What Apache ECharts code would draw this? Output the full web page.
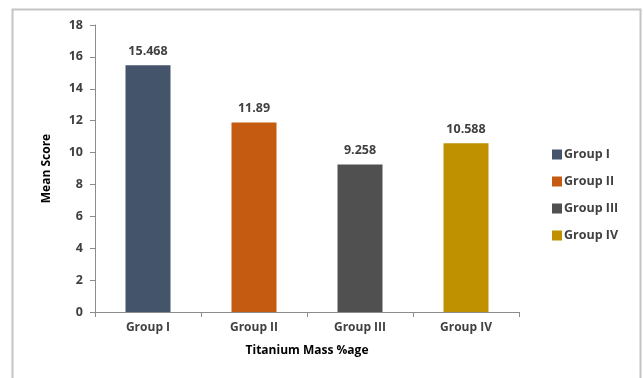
<!DOCTYPE html>
<html>
<head>
<meta charset="utf-8">
<script src="https://cdn.jsdelivr.net/npm/echarts@6/dist/echarts.min.js"></script>
<style>
  html, body { margin: 0; padding: 0; background: #ffffff; }
  #chart { width: 644px; height: 378px; }
</style>
</head>
<body>
<div id="chart"></div>
<script>
// Mean score per titanium group
const categories = ['Group I', 'Group II', 'Group III', 'Group IV'];
const meanScores = [15.468, 11.89, 9.258, 10.588];
const valueLabels = ['15.468', '11.89', '9.258', '10.588'];
const groupColors = ['#44546A', '#C55A11', '#505050', '#BF9000'];
const yTicks = [0, 2, 4, 6, 8, 10, 12, 14, 16, 18];

const FONT = '"Open Sans", sans-serif';
const textColor = '#404040';

// One series per group so each gets its own legend entry; sharing a stack keeps bars centred
const series = categories.map((name, i) => ({
  name: name,
  type: 'bar',
  stack: 'groups',
  barWidth: 45,
  itemStyle: { color: groupColors[i] },
  label: {
    show: true,
    position: 'top',
    distance: 7,
    fontFamily: FONT,
    fontWeight: 'bold',
    fontSize: 12.5,
    color: textColor,
    formatter: () => valueLabels[i]
  },
  data: categories.map((c, j) => (j === i ? meanScores[i] : null))
}));

const chart = echarts.init(document.getElementById('chart'), null, { renderer: 'canvas' });
chart.setOption({
  animation: false,
  backgroundColor: '#ffffff',
  graphic: [{
    type: 'rect',
    shape: { x: 12.5, y: 9.5, width: 628, height: 420 },
    style: { fill: 'none', stroke: '#c4c4c4', lineWidth: 2 },
    silent: true
  }],
  grid: { left: 95, right: 125, top: 25, bottom: 66 },
  legend: {
    orient: 'vertical',
    left: 547,
    top: 143,
    itemWidth: 10,
    itemHeight: 10,
    itemGap: 14,
    icon: 'rect',
    textStyle: { fontFamily: FONT, fontWeight: 'bold', fontSize: 12.5, color: textColor, padding: [0, 0, 0, -3] },
    data: categories
  },
  xAxis: {
    type: 'category',
    data: categories,
    name: 'Titanium Mass %age',
    nameLocation: 'middle',
    nameGap: 33,
    nameTextStyle: { fontFamily: FONT, fontWeight: 'bold', fontSize: 12, color: '#000' },
    axisLine: { lineStyle: { color: '#8c8c8c', width: 1 } },
    axisTick: { show: true, length: 5, lineStyle: { color: '#8c8c8c' } },
    axisLabel: { fontFamily: FONT, fontWeight: 'bold', fontSize: 12, color: textColor, margin: 10 }
  },
  yAxis: {
    type: 'value',
    min: 0,
    max: 18,
    interval: 2,
    name: 'Mean Score',
    nameLocation: 'middle',
    nameGap: 42,
    nameRotate: 90,
    nameTextStyle: { fontFamily: FONT, fontWeight: 'bold', fontSize: 12, color: '#000' },
    axisLine: { show: true, lineStyle: { color: '#8c8c8c', width: 1 } },
    axisTick: { show: true, length: 5, lineStyle: { color: '#8c8c8c' } },
    splitLine: { show: false },
    axisLabel: {
      fontFamily: FONT, fontWeight: 'bold', fontSize: 12.5, color: textColor, margin: 12,
      formatter: v => (yTicks.includes(v) ? String(v) : '')
    }
  },
  series: series
});
</script>
</body>
</html>
